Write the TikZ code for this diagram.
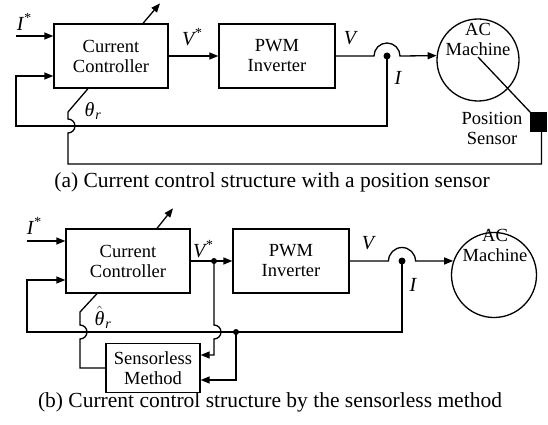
\documentclass[tikz,border=0pt]{standalone}
\usepackage{fontspec}
\setmainfont{Liberation Serif}
\usetikzlibrary{arrows.meta,calc}

\begin{document}
\begin{tikzpicture}[x=1pt, y=-1pt, line width=1.3pt,
  blk/.style={draw, align=center, inner sep=0pt, font=\fontsize{18.5}{20}\selectfont},
  txt/.style={align=center, inner sep=0pt, font=\fontsize{18.5}{20}\selectfont},
  mach/.style={draw, circle, inner sep=0pt},
  lbl/.style={inner sep=0pt, font=\fontsize{20}{22}\selectfont\itshape},
  capt/.style={inner sep=0pt, font=\fontsize{21.5}{24}\selectfont},
  arr/.style={-{Triangle[length=9pt,width=7pt]}},
  jdot/.style={circle, fill, inner sep=0pt, minimum size=7pt}]
\useasboundingbox (0,0) rectangle (548,425);
% (a) with a position sensor
\node[blk, minimum width=114pt, minimum height=64pt] (cc1) at (111,56) {Current\\Controller};
\node[blk, minimum width=116pt, minimum height=64pt] (pwm1) at (277,56) {PWM\\Inverter};
\node[mach, minimum size=82pt] (acm1) at (478,60) {};
\node[txt] (acm1t) at (478,39) {AC\\Machine};
\node[draw, fill=black, minimum width=15pt, minimum height=18pt, inner sep=0pt] (pos1) at (538.5,122) {};
\node[txt] (pos1t) at (492,128) {Position\\Sensor};
\coordinate (in1) at (16,36);
\coordinate (j1) at (387,56);
\draw[arr] (in1) -- (in1 -| cc1.west);
\node[lbl] (is1) at (24,22) {I\textsuperscript{*}};
\draw[arr] ([xshift=32pt]cc1.north) -- ++(17,-20);
\draw[arr] (cc1.east) -- (pwm1.west);
\node[lbl] (vs1) at (192,37) {V\textsuperscript{*}};
\draw[arr] (pwm1.east) -- ([xshift=-13pt]j1) arc[start angle=180, end angle=0, radius=13pt] -- (acm1.174);
\node[lbl] (v1) at (350,38) {V};
\node[jdot] (j1d) at (j1) {};
\draw[arr] (j1) |- (16,126) |- ([yshift=-20pt]cc1.west);
\node[lbl] (i1) at (398,78) {I};
\draw ([xshift=-23pt]cc1.south) -- (68,112) -- (68,119) arc[start angle=90, end angle=-90, radius=7pt]
  -- (68,164) -| ([xshift=3pt]pos1.south);
\node[lbl] (th1) at (93,111) {θ\kern1pt\textsubscript{r}};
\draw ([yshift=3pt]acm1.center) -- (pos1.north west);
\node[capt] (capa) at (272,182) {(a) Current control structure with a position sensor};
% (b) by the sensorless method
\node[blk, minimum width=124pt, minimum height=64pt] (cc2) at (128,261) {Current\\Controller};
\node[blk, minimum width=116pt, minimum height=64pt] (pwm2) at (291,261) {PWM\\Inverter};
\node[mach, minimum size=85pt] (acm2) at (494,275) {};
\node[txt] (acm2t) at (495,245) {AC\\Machine};
\node[blk, minimum width=94pt, minimum height=49pt] (sl2) at (153,368) {Sensorless\\Method};
\coordinate (in2) at (27,241);
\coordinate (j2v) at (214,261);
\coordinate (j2) at (402,261);
\coordinate (j2i) at (236,332);
\draw[arr] (in2) -- (in2 -| cc2.west);
\node[lbl] (is2) at (34,226) {I\textsuperscript{*}};
\draw[arr] ([xshift=29pt]cc2.north) -- ++(16,-20);
\draw[arr] (cc2.east) -- (pwm2.west);
\node[lbl] (vs2) at (203,249) {V\textsuperscript{*}};
\node[jdot, minimum size=6pt] (j2vd) at (j2v) {};
\draw[arr] (pwm2.east) -- ([xshift=-13.5pt]j2) arc[start angle=180, end angle=0, radius=13.5pt] -- (acm2.161);
\node[lbl] (v2) at (368,243) {V};
\node[jdot] (j2d) at (j2) {};
\draw[arr] (j2) |- (27,332) |- ([yshift=-19pt]cc2.west);
\node[lbl] (i2) at (413,285) {I};
\node[jdot, minimum size=6pt] (j2id) at (j2i) {};
\draw[arr] (j2v) -- (214,325) arc[start angle=90, end angle=-90, radius=7pt] -- (214,339) |- ([yshift=13pt]sl2.east);
\draw[arr] (j2i) |- ([yshift=-12pt]sl2.east);
\draw ([xshift=-31pt]cc2.south) -- (80,312) -- (80,325) arc[start angle=90, end angle=-90, radius=7pt]
  -- (80,339) |- (sl2.west);
\node[lbl] (th2) at (103,317) {$\hat{\mbox{\itshape θ}}$\kern1pt\textsubscript{r}};
\node[capt] (capb) at (270,402) {(b) Current control structure by the sensorless method};
\end{tikzpicture}
\end{document}
